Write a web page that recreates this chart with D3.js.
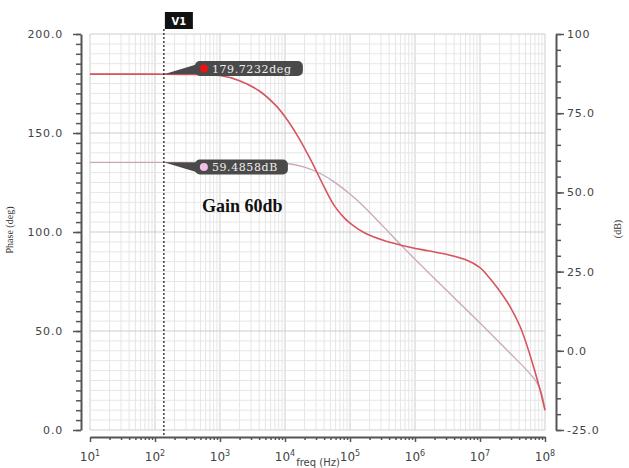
<!DOCTYPE html>
<html>
<head>
<meta charset="utf-8">
<script src="https://cdn.jsdelivr.net/npm/d3@7"></script>
<style>
  html, body { margin: 0; padding: 0; background: #fff; }
  svg { display: block; }
</style>
</head>
<body>
<svg id="chart" width="629" height="468"></svg>
<script>
// Phase response (deg) of the amplifier
const phaseFreq = [1e1, 1e2, 316, 1e3, 1995, 3981, 7079, 1e4, 15849, 25119, 39811, 56234, 79433, 1e5, 158489, 316228, 630957, 1584893, 3162278, 6309573, 1e7, 14125375, 19952623, 28840315, 41686938, 58884366, 83176377, 1e8];
const phaseDeg  = [179.72, 179.72, 179.6, 179.0, 176.45, 171.35, 164.2, 158.2, 148.2, 136.2, 122.9, 113.7, 107.5, 104.5, 100.0, 95.9, 93.2, 90.5, 88.6, 85.7, 82.0, 76.6, 70.3, 62.4, 52.0, 37.8, 20.8, 10.0];

// Gain response (dB)
const gainFreq = [1e1, 1e2, 1e3, 3162, 1e4, 19953, 35481, 56234, 1e5, 158489, 316228, 630957, 1995262, 1e7, 28840315, 50118723, 75857758, 89125094, 1e8];
const gainDb   = [59.49, 59.49, 59.48, 59.44, 59.2, 58.0, 55.9, 53.4, 49.5, 45.8, 39.5, 33.05, 22.8, 8.8, -0.7, -5.7, -10.2, -13.7, -18.7];

// Axis ticks
const decadeExps = [1, 2, 3, 4, 5, 6, 7, 8];
const phaseTicks = [0, 50, 100, 150, 200];
const gainTicks = [-25, 0, 25, 50, 75, 100];
const gainTickLabels = ["-25.0", "0.0", "25.0", "50.0", "75.0", "100"];

// Cursor readout
const cursorName = "V1";
const cursorFreq = 137;
const phaseReadout = 179.7232;
const gainReadout = 59.4858;

const svg = d3.select("#chart");

const x = d3.scaleLog().domain([1e1, 1e8]).range([90, 545]);
const yPhase = d3.scaleLinear().domain([0, 200]).range([430, 34]);
const yGain = d3.scaleLinear().domain([-25, 100]).range([430, 34]);

// ---- grid ----
const grid = svg.append("g");
const vLines = [];
decadeExps.slice(0, -1).forEach(e => {
  for (let k = 1; k <= 9; k++) vLines.push({ f: k * Math.pow(10, e), major: k === 1 });
});
vLines.push({ f: 1e8, major: true });
grid.selectAll("line.v").data(vLines).join("line")
  .attr("x1", d => x(d.f)).attr("x2", d => x(d.f))
  .attr("y1", yPhase(200)).attr("y2", yPhase(0))
  .attr("stroke", d => d.major ? "#cdcdcd" : "#e6e6e6")
  .attr("stroke-width", 1);

const hLines = d3.range(0, 201, 5);
grid.selectAll("line.h").data(hLines).join("line")
  .attr("x1", x(1e1)).attr("x2", x(1e8))
  .attr("y1", d => yPhase(d)).attr("y2", d => yPhase(d))
  .attr("stroke", d => d % 50 === 0 ? "#cdcdcd" : "#e6e6e6")
  .attr("stroke-width", 1);

// ---- axes ----
function styleAxis(g) {
  g.selectAll(".domain").attr("stroke", "#555").attr("stroke-width", 2);
  g.selectAll(".tick line").attr("stroke", "#555").attr("stroke-width", 1.5);
  g.selectAll(".tick text")
    .attr("fill", "#444")
    .style("font-family", "'DejaVu Sans', Verdana, sans-serif")
    .style("font-size", "11px")
    .style("letter-spacing", "0.8px");
}

// left (phase)
svg.append("g").attr("transform", "translate(81,0)")
  .call(d3.axisLeft(yPhase).tickValues(d3.range(0, 201, 5)).tickSize(5).tickSizeOuter(0).tickFormat(""))
  .call(styleAxis);
svg.append("g").attr("transform", "translate(81,0)")
  .call(d3.axisLeft(yPhase).tickValues(phaseTicks).tickSize(8).tickSizeOuter(0).tickPadding(10).tickFormat(d3.format(".1f")))
  .call(styleAxis)
  .call(g => g.select(".domain").remove());

// right (gain)
svg.append("g").attr("transform", "translate(556,0)")
  .call(d3.axisRight(yGain).tickValues(d3.range(-25, 101, 5)).tickSize(5).tickSizeOuter(0).tickFormat(""))
  .call(styleAxis);
svg.append("g").attr("transform", "translate(556,0)")
  .call(d3.axisRight(yGain).tickValues(gainTicks).tickSize(8).tickSizeOuter(0).tickPadding(3)
    .tickFormat((d, i) => gainTickLabels[i]))
  .call(styleAxis)
  .call(g => g.select(".domain").remove());

// bottom (frequency)
const minorFreqs = vLines.filter(d => !d.major).map(d => d.f);
svg.append("g").attr("transform", "translate(0,437)")
  .call(d3.axisBottom(x).tickValues(minorFreqs).tickSize(3).tickSizeOuter(0).tickFormat(""))
  .call(styleAxis);
svg.append("g").attr("transform", "translate(0,437)")
  .call(d3.axisBottom(x).tickValues(decadeExps.map(e => Math.pow(10, e))).tickSize(5).tickSizeOuter(0).tickFormat(""))
  .call(styleAxis)
  .call(g => g.select(".domain").remove());

svg.append("g").selectAll("text").data(decadeExps).join("text")
  .attr("x", d => x(Math.pow(10, d)))
  .attr("y", 461)
  .attr("text-anchor", "middle")
  .attr("fill", "#444")
  .style("font-family", "'DejaVu Sans', Verdana, sans-serif")
  .style("font-size", "12px")
  .each(function (d) {
    const t = d3.select(this);
    t.append("tspan").text("10");
    t.append("tspan").attr("dy", -5).style("font-size", "8px").text(d);
  });

// axis titles
svg.append("text")
  .attr("transform", "translate(13,230) rotate(-90)")
  .attr("text-anchor", "middle")
  .attr("fill", "#333")
  .style("font-family", "'Liberation Serif', serif")
  .style("font-size", "10px")
  .text("Phase (deg)");
svg.append("text")
  .attr("transform", "translate(621,229) rotate(-90)")
  .attr("text-anchor", "middle")
  .attr("fill", "#333")
  .style("font-family", "'Liberation Serif', serif")
  .style("font-size", "10px")
  .text("(dB)");
svg.append("text")
  .attr("x", 318).attr("y", 466)
  .attr("text-anchor", "middle")
  .attr("fill", "#444")
  .style("font-family", "'DejaVu Sans', Verdana, sans-serif")
  .style("font-size", "10px")
  .text("freq (Hz)");

// ---- curves ----
const gainLine = d3.line()
  .x(d => x(d[0])).y(d => yGain(d[1]))
  .curve(d3.curveCatmullRom.alpha(0.5));
const phaseLine = d3.line()
  .x(d => x(d[0])).y(d => yPhase(d[1]))
  .curve(d3.curveCatmullRom.alpha(0.5));

svg.append("path")
  .datum(d3.zip(gainFreq, gainDb))
  .attr("d", gainLine)
  .attr("fill", "none")
  .attr("stroke", "#c9a6bd")
  .attr("stroke-width", 1.3);

svg.append("path")
  .datum(d3.zip(phaseFreq, phaseDeg))
  .attr("d", phaseLine)
  .attr("fill", "none")
  .attr("stroke", "#d5555e")
  .attr("stroke-width", 1.6);

// annotation
svg.append("text")
  .attr("x", 202).attr("y", 212)
  .attr("fill", "#111")
  .style("font-family", "'Liberation Serif', 'Times New Roman', serif")
  .style("font-size", "18px")
  .style("font-weight", "bold")
  .text("Gain 60db");

// ---- cursor ----
const cx = x(cursorFreq);
svg.append("line")
  .attr("x1", cx).attr("x2", cx)
  .attr("y1", 29).attr("y2", 436)
  .attr("stroke", "#222")
  .attr("stroke-width", 1.3)
  .attr("stroke-dasharray", "2,2");
svg.append("rect")
  .attr("x", cx + 1).attr("y", 12).attr("width", 28).attr("height", 17)
  .attr("fill", "#111");
svg.append("text")
  .attr("x", cx + 15).attr("y", 24.5)
  .attr("text-anchor", "middle")
  .attr("fill", "#fff")
  .style("font-family", "'DejaVu Sans', sans-serif")
  .style("font-size", "10px")
  .style("font-weight", "bold")
  .text(cursorName);

// readout callouts
function callout(yVal, boxY, boxW, dotColor, label) {
  const g = svg.append("g");
  const bx = cx + 31;
  g.append("path")
    .attr("d", `M${cx},${yVal} L${bx + 3},${boxY + 3} L${bx + 3},${boxY + 13} Z`)
    .attr("fill", "#4a4a4a");
  g.append("rect")
    .attr("x", bx).attr("y", boxY).attr("width", boxW).attr("height", 15)
    .attr("rx", 5)
    .attr("fill", "#4a4a4a");
  g.append("circle")
    .attr("cx", bx + 9).attr("cy", boxY + 7.5).attr("r", 4)
    .attr("fill", dotColor);
  g.append("text")
    .attr("x", bx + 17).attr("y", boxY + 11.5)
    .attr("fill", "#eee")
    .style("font-family", "'DejaVu Serif', serif")
    .style("font-size", "11px")
    .style("letter-spacing", "0.6px")
    .text(label);
}
callout(yPhase(phaseReadout), 61, 108, "#ee1111", phaseReadout.toFixed(4) + "deg");
callout(yGain(gainReadout), 159.5, 93, "#f2bde9", gainReadout.toFixed(4) + "dB");
</script>
</body>
</html>
